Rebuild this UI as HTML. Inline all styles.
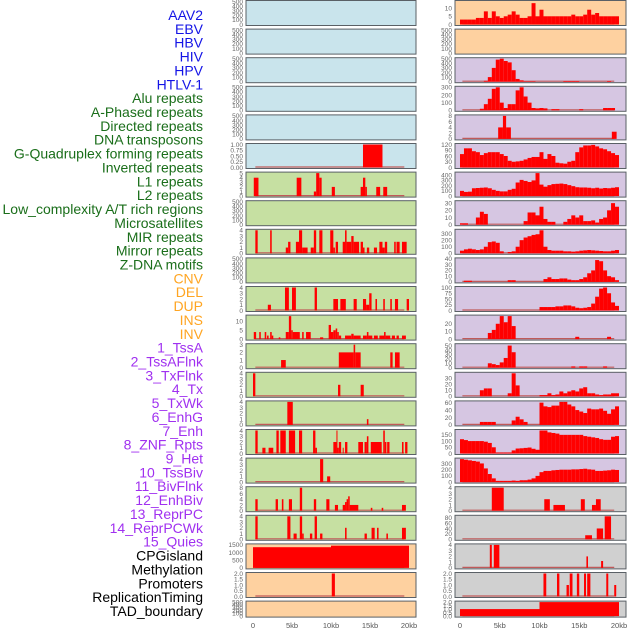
<!DOCTYPE html>
<html><head><meta charset="utf-8"><style>
html,body{margin:0;padding:0;background:#fff;}
svg{display:block;font-family:"Liberation Sans",sans-serif;}
</style></head><body>
<svg id="chart" width="630" height="630" viewBox="0 0 630 630" xmlns="http://www.w3.org/2000/svg"></svg>
<script>
// ---------- data ----------
const labels = ["AAV2","EBV","HBV","HIV","HPV","HTLV-1","Alu repeats","A-Phased repeats","Directed repeats","DNA transposons","G-Quadruplex forming repeats","Inverted repeats","L1 repeats","L2 repeats","Low_complexity A/T rich regions","Microsatellites","MIR repeats","Mirror repeats","Z-DNA motifs","CNV","DEL","DUP","INS","INV","1_TssA","2_TssAFlnk","3_TxFlnk","4_Tx","5_TxWk","6_EnhG","7_Enh","8_ZNF_Rpts","9_Het","10_TssBiv","11_BivFlnk","12_EnhBiv","13_ReprPC","14_ReprPCWk","15_Quies","CPGisland","Methylation","Promoters","ReplicationTiming","TAD_boundary"];
const labelGroups = [0,0,0,0,0,0,1,1,1,1,1,1,1,1,1,1,1,1,1,2,2,2,2,2,3,3,3,3,3,3,3,3,3,3,3,3,3,3,3,4,4,4,4,4];
const xTickKb = [0,5,10,15,20];
const xTickLabels = ["0","5kb","10kb","15kb","20kb"];

// segment data: [startKb, endKb, value]
const L5 = [[14.1,16.6,1]];
const L6 = [[0.1,0.7,4],[5.6,6.2,4],[7.8,8.1,1],[8.1,8.5,5],[8.5,8.8,4],[10.1,10.5,2],[13.8,14.1,2],[14.1,14.4,4],[14.4,14.6,2],[15.8,16.3,2],[16.7,17.2,2]];
const L8 = [[0.3,0.6,4],[2.2,2.4,4],[4.2,4.5,1],[4.5,4.8,2],[5.5,5.9,2],[5.9,6.3,4],[6.3,7.0,1],[7.4,7.8,1],[7.8,8.1,4],[8.5,8.9,4],[9.9,10.3,4],[10.3,10.5,1],[10.6,10.9,2],[11.5,11.8,2],[11.8,12.0,4],[12.0,12.6,2],[12.6,12.9,3],[12.9,13.6,2],[13.8,14.1,2],[14.1,14.3,1],[14.6,14.9,1],[15.5,15.9,1],[16.2,16.6,2],[16.6,16.9,1],[16.9,17.2,2],[18.1,18.3,2],[18.4,18.8,2],[19.1,19.7,2]];
const L10 = [[1.9,2.3,1],[4.1,4.6,4],[5.0,5.5,4],[7.9,8.2,4],[10.3,10.9,2],[11.2,11.9,2],[12.9,13.3,2],[14.1,14.5,2],[14.5,14.9,1],[14.9,15.2,3],[15.7,15.9,2],[16.7,16.9,2],[17.6,17.8,2],[18.2,18.6,2],[19.7,20.0,2]];
const L11 = [[0.1,0.4,4],[0.8,1.0,4],[1.5,1.7,4],[1.8,2.0,2],[2.2,2.4,4],[2.4,2.6,2],[3.3,3.5,1],[4.2,4.6,4],[4.6,4.9,13],[4.9,5.1,5],[5.1,6.0,4],[6.3,6.5,4],[6.8,7.4,4],[8.6,9.0,1],[9.7,10.0,8],[10.0,10.3,4],[10.3,10.6,5],[10.6,10.8,6],[10.8,11.0,4],[11.0,11.3,2],[11.8,12.6,2],[12.6,12.9,3],[12.9,13.8,2],[14.1,14.6,2],[14.6,14.8,4],[14.8,15.3,2],[15.5,16.0,2],[16.2,16.8,2],[16.8,17.0,4],[17.0,17.6,2],[17.8,18.2,2],[18.4,18.7,2],[19.1,19.6,2]];
const L12 = [[3.6,4.2,1],[11.0,12.9,2],[12.9,13.1,3],[13.1,13.8,2],[17.6,17.9,2],[18.2,18.8,2]];
const L13 = [[0.0,0.3,4],[10.9,11.2,2],[13.8,14.2,2]];
const L14 = [[4.4,5.1,4],[14.6,14.8,1]];
const L15 = [[0.3,0.6,4],[1.2,1.6,1],[2.0,2.6,1],[3.0,3.3,4],[3.5,4.2,4],[4.6,5.4,4],[5.9,6.3,4],[7.7,8.0,4],[8.0,8.2,1],[10.3,10.7,2],[10.7,10.8,4],[10.8,11.0,1],[11.0,11.3,2],[11.5,11.6,1],[11.8,12.1,2],[13.5,14.1,2],[14.3,14.6,2],[14.6,14.8,3],[15.1,16.5,2],[16.7,16.9,4],[16.9,17.1,2],[17.2,17.5,2],[19.1,19.3,2],[19.5,19.8,2]];
const L16 = [[8.6,9.0,4],[9.5,9.9,1]];
const L17 = [[0.3,0.6,4],[2.9,3.2,4],[3.7,3.9,4],[4.6,5.0,4],[6.0,6.3,8],[7.8,8.1,4],[9.4,9.8,4],[10.5,10.9,2],[11.5,11.8,2],[11.8,12.0,3],[12.0,12.2,4],[12.2,12.4,5],[12.4,13.5,2],[15.1,15.3,1],[16.5,16.7,1],[19.1,19.6,2]];
const L18 = [[0.3,0.6,4],[4.4,4.8,4],[5.2,5.6,1],[6.0,6.3,4],[6.3,6.5,1],[7.3,7.6,1],[7.9,8.2,4],[8.6,8.9,1],[11.8,12.0,2],[14.3,14.6,1],[15.2,15.6,2],[15.9,16.1,2],[17.1,17.3,1],[19.1,19.6,2]];
const L19 = [[0.0,10.0,1350],[10.0,20.0,1450]];
const L20 = [[10.1,10.5,2]];
const R4 = [[4.8,5.4,4],[5.4,5.8,8],[5.8,6.4,4],[19.1,19.7,2.5]];
const R17 = [[4.0,5.5,4],[10.6,11.3,2],[11.75,13.2,1],[15.2,15.7,2],[16.6,17.1,1],[17.1,17.7,2]];
const R18 = [[15.75,16.6,15],[17.2,18.0,40],[18.2,19.0,85]];
const R19 = [[3.75,4.0,4],[4.25,4.95,4],[15.9,16.1,2],[17.75,18.0,1.2]];
const R20 = [[10.5,10.85,2],[12.2,12.5,2],[13.4,13.7,1],[13.8,14.15,2],[14.7,15.0,2],[15.6,15.85,2],[16.0,16.4,2],[18.4,18.65,2],[19.4,19.65,1]];
const R21 = [[0.0,10.0,1],[10.0,20.0,2]];

// binned data: 40 bins of 0.5 kb from 0 to 20 kb
const R0 = [3,3,3,3,4,4,8,4,8,5,4,5,6,8,6,4,4,5,13,5,9,5,5,5,5,5,5,5,6,5,5,6,9,6,7,5,5,5,5,5];
const R2 = [0,0,0,0,0,0,20,100,300,480,500,450,420,250,60,30,10,10,10,0,0,0,0,0,0,0,15,15,15,15,0,0,0,0,0,0,0,15,0,0];
const R3 = [0,0,0,0,0,20,80,150,280,300,100,30,80,80,260,300,180,100,30,25,30,25,0,15,15,0,0,0,0,0,15,0,0,0,0,0,30,30,30,0];
const R5 = [70,100,100,85,80,65,75,80,80,80,70,60,35,30,32,35,42,50,55,55,80,45,70,60,25,22,20,30,35,80,105,115,115,118,110,100,95,85,75,65];
const R6 = [100,80,85,150,155,160,165,150,120,100,90,90,120,140,260,310,290,270,300,440,220,180,210,230,235,240,230,210,190,170,165,165,160,150,160,145,155,150,160,170];
const R7 = [2,2,0,0,10,18,15,0,0,0,0,0,0,0,0,0,5,17,17,13,25,8,4,4,0,0,4,8,13,10,13,5,5,6,3,8,10,20,30,25];
const R8 = [40,60,70,60,50,60,100,170,180,160,30,0,20,30,100,200,240,260,280,290,350,100,50,40,40,40,30,30,25,30,40,45,50,45,40,35,30,30,40,50];
const R9 = [0,2,2,0,0,0,0,0,0,0,0,0,3,3,0,0,0,0,0,0,0,5,8,5,5,6,6,4,3,3,5,8,15,20,38,36,20,10,8,3];
const R10 = [0,0,0,0,0,0,0,0,0,0,0,0,0,0,0,0,0,0,0,0,15,15,15,15,18,18,22,22,18,12,10,12,15,30,60,95,100,75,35,20];
const R11 = [0,0,0,0,0,0,0,8,12,20,30,22,30,17,0,0,0,0,0,0,0,0,0,0,0,0,0,0,0,3,0,0,0,0,0,0,0,3,0,0];
const R12 = [0,0,0,0,0,0,0,10,8,6,12,22,50,35,0,0,0,0,0,0,0,0,0,0,0,0,0,0,3,0,3,3,0,0,0,0,3,0,0,0];
const R13 = [0,0,0,0,0,10,13,13,0,0,0,0,5,38,18,0,0,0,0,0,2,2,5,2,3,8,5,8,10,8,13,15,5,5,3,2,3,3,5,5];
const R14 = [0,0,0,0,0,8,8,8,8,0,0,0,0,12,22,15,8,0,0,0,60,50,48,52,52,62,62,55,50,40,36,32,44,42,42,44,38,30,42,50];
const R15 = [115,108,100,100,100,100,95,85,50,8,8,8,8,25,40,42,45,48,38,30,185,185,170,165,160,150,150,150,150,150,150,140,135,130,125,115,110,110,135,140];
const R16 = [370,360,350,340,330,300,220,130,60,20,20,20,20,25,20,30,30,40,60,100,160,180,180,190,195,200,200,200,205,205,210,215,205,200,180,180,185,190,200,195];

// ---------- panel config ----------
const BLUE="#c9e4ec", GREEN="#c6e0a2", PEACH="#fed1a0", LAV="#d6c6e2", GRAY="#d0d0d0";
const T500=[0,100,200,300,400,500], T4=[0,1,2,3,4];
const leftPanels = [
 {name:"AAV2",bg:BLUE,ymax:500,ticks:T500},
 {name:"EBV",bg:BLUE,ymax:500,ticks:T500},
 {name:"HBV",bg:BLUE,ymax:500,ticks:T500},
 {name:"HIV",bg:BLUE,ymax:500,ticks:T500},
 {name:"HPV",bg:BLUE,ymax:500,ticks:T500},
 {name:"HTLV-1",bg:BLUE,ymax:1,ticks:[0,0.25,0.5,0.75,1],fmt:2,segs:L5},
 {name:"alu",bg:GREEN,ymax:5,ticks:[0,1,2,3,4,5],segs:L6},
 {name:"a-phased",bg:GREEN,ymax:500,ticks:T500},
 {name:"directed",bg:GREEN,ymax:4,ticks:T4,segs:L8},
 {name:"dna-transposons",bg:GREEN,ymax:500,ticks:T500},
 {name:"g-quadruplex",bg:GREEN,ymax:4,ticks:T4,segs:L10},
 {name:"inverted",bg:GREEN,ymax:13,ticks:[0,5,10],segs:L11},
 {name:"l1",bg:GREEN,ymax:3,ticks:[0,1,2,3],segs:L12},
 {name:"l2",bg:GREEN,ymax:4,ticks:T4,segs:L13},
 {name:"low-complexity",bg:GREEN,ymax:4,ticks:T4,segs:L14},
 {name:"microsatellites",bg:GREEN,ymax:4,ticks:T4,segs:L15},
 {name:"mir",bg:GREEN,ymax:4,ticks:T4,segs:L16},
 {name:"mirror",bg:GREEN,ymax:8,ticks:[0,2,4,6,8],segs:L17},
 {name:"z-dna",bg:GREEN,ymax:4,ticks:T4,segs:L18},
 {name:"cnv",bg:PEACH,ymax:1500,ticks:[0,500,1000,1500],segs:L19},
 {name:"del",bg:PEACH,ymax:2,ticks:[0,0.5,1,1.5,2],fmt:1,segs:L20},
 {name:"dup",bg:PEACH,ymax:500,ticks:T500}
];
const rightPanels = [
 {name:"ins",bg:PEACH,ymax:14,ticks:[0,5,10],bins:R0},
 {name:"inv",bg:PEACH,ymax:500,ticks:T500},
 {name:"tssa",bg:LAV,ymax:500,ticks:T500,bins:R2},
 {name:"tssaflnk",bg:LAV,ymax:300,ticks:[0,100,200,300],bins:R3},
 {name:"txflnk",bg:LAV,ymax:8,ticks:[0,2,4,6,8],segs:R4},
 {name:"tx",bg:LAV,ymax:120,ticks:[0,30,60,90,120],bins:R5},
 {name:"txwk",bg:LAV,ymax:440,ticks:[0,100,200,300,400],bins:R6},
 {name:"enhg",bg:LAV,ymax:32,ticks:[0,10,20,30],bins:R7},
 {name:"enh",bg:LAV,ymax:350,ticks:[0,100,200,300],bins:R8},
 {name:"znf",bg:LAV,ymax:40,ticks:[0,10,20,30,40],bins:R9},
 {name:"het",bg:LAV,ymax:100,ticks:[0,25,50,75,100],bins:R10},
 {name:"tssbiv",bg:LAV,ymax:30,ticks:[0,10,20],bins:R11},
 {name:"bivflnk",bg:LAV,ymax:52,ticks:[0,10,20,30,40,50],bins:R12},
 {name:"enhbiv",bg:LAV,ymax:38,ticks:[0,10,20,30],bins:R13},
 {name:"reprpc",bg:LAV,ymax:62,ticks:[0,20,40,60],bins:R14},
 {name:"reprpcwk",bg:LAV,ymax:185,ticks:[0,50,100,150],bins:R15},
 {name:"quies",bg:LAV,ymax:370,ticks:[0,100,200,300],bins:R16},
 {name:"cpgisland",bg:GRAY,ymax:4,ticks:T4,segs:R17},
 {name:"methylation",bg:GRAY,ymax:85,ticks:[0,20,40,60,80],segs:R18},
 {name:"promoters",bg:GRAY,ymax:4,ticks:T4,segs:R19},
 {name:"replication-timing",bg:GRAY,ymax:2,ticks:[0,0.5,1,1.5,2],fmt:1,segs:R20},
 {name:"tad-boundary",bg:GRAY,ymax:2,ticks:[0,0.5,1,1.5,2],fmt:1,segs:R21}
];

// ---------- drawing ----------
const NS="http://www.w3.org/2000/svg";
const svg=document.getElementById("chart");
function mk(tag,attrs,parent){const e=document.createElementNS(NS,tag);for(const k in attrs)e.setAttribute(k,attrs[k]);(parent||svg).appendChild(e);return e;}
const labelColors=["#1414e6","#1a6e1a","#ffa522","#a030f0","#000000"];

labels.forEach((t,i)=>{
  const el=mk("text",{x:203,y:20+i*13.86,"text-anchor":"end","font-size":"14",fill:labelColors[labelGroups[i]]});
  el.textContent=t;
  
  
});

const cols=[{px:246,pw:170,x0:253,k:7.8,panels:leftPanels},{px:455,pw:171,x0:460,k:7.95,panels:rightPanels}];
function xScale(c,kb){return c.x0+kb*c.k;}

cols.forEach((c,ci)=>{
  c.panels.forEach((p,i)=>{
    const top=i*28.6, h=(i===21)?16:25;
    const g=mk("g",{});
    
    
    const bg=mk("rect",{x:c.px,y:top+0.5,width:c.pw,height:h,fill:p.bg,stroke:"#5a6066","stroke-width":1},g);
    
    
    const yb=top+h-0.5, ph=h-2;
    const yScale=v=>yb-v/p.ymax*ph;
    p.ticks.forEach(v=>{
      const t=mk("text",{x:c.px-3,y:yScale(v)+2.3,"text-anchor":"end","font-size":"6.5",fill:"#666"},g);
      t.textContent=p.fmt?v.toFixed(p.fmt):String(v);
      
      
    });
    const bars=[];
    if(p.segs) p.segs.forEach(s=>bars.push([s[0],s[1],s[2]]));
    if(p.bins) p.bins.forEach((v,j)=>{ if(v>0) bars.push([j*0.5,(j+1)*0.5,v]); });
    if(bars.length){
      const bl=mk("line",{x1:xScale(c,0.3),x2:xScale(c,19.4),y1:yb-0.5,y2:yb-0.5,stroke:"#c05a5a","stroke-width":1.2},g);
      
      
    }
    bars.forEach(b=>{
      const x1=xScale(c,b[0]), x2=xScale(c,b[1]), y=yScale(Math.min(b[2],p.ymax));
      const r=mk("rect",{x:x1,y:y,width:Math.max(1,x2-x1),height:yb-y,fill:"#ff0000"},g);
      
      
    });
  });
  xTickKb.forEach((kb,j)=>{
    const t=mk("text",{x:xScale(c,kb),y:628,"text-anchor":"middle","font-size":"7.5",fill:"#555"});
    t.textContent=xTickLabels[j];
    
    
  });
});
</script>
</body></html>
